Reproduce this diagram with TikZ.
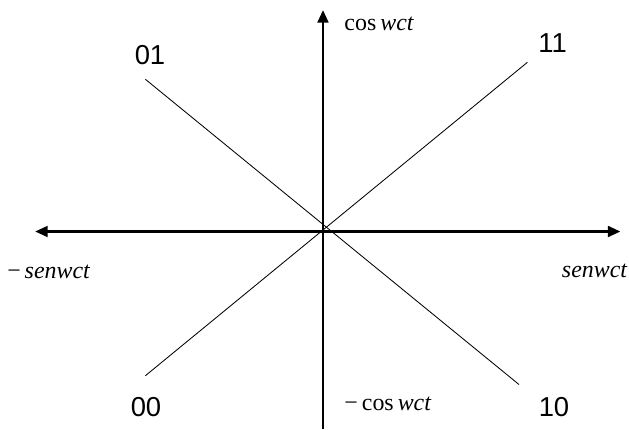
\documentclass[tikz,border=0pt]{standalone}
\usepackage{fontspec}
\setmainfont{Liberation Serif}
\newfontfamily\labelfont{Liberation Sans}
\usetikzlibrary{arrows.meta}

\begin{document}
\begin{tikzpicture}[
    axis/.style={line width=2.1pt, -{Triangle[length=9pt, width=7.5pt]}},
    diag/.style={line width=0.6pt},
    bits/.style={font=\labelfont\fontsize{19.5}{22}\selectfont},
    sig/.style={font=\fontsize{17}{20}\selectfont, inner sep=0pt},
]

% Frame
\useasboundingbox (-8.075,-4.9375) rectangle (7.65,5.7875);

% Axis ends
\def\xl{-7.2}
\def\xr{7.44}
\def\yt{5.54}
\def\yb{-4.94}

\coordinate (o) at (0,0);
\coordinate (left) at (\xl,0);
\coordinate (right) at (\xr,0);
\coordinate (top) at (0,\yt);
\coordinate (bottom) at (0,\yb);

% Diagonal ends
\coordinate (p01) at (-4.44, 3.805);
\coordinate (p10) at (4.90, -3.825);
\coordinate (p11) at (5.11, 4.23);
\coordinate (p00) at (-4.44, -3.605);

% Axes
\draw[axis] (o) -- (right);
\draw[axis] (o) -- (left);
\draw[axis] (bottom) -- (top);

% Diagonals
\draw[diag] (p01) -- (p10);
\draw[diag] (p00) -- (p11);

% Symbol labels
\node[bits] (b01) at (-4.325, 4.41) {01};
\node[bits] (b11) at (5.74, 4.71) {11};
\node[bits] (b00) at (-4.425, -4.40) {00};
\node[bits] (b10) at (5.775, -4.38) {10};

% Signal labels
\node[sig, anchor=west] (cosp) at (0.53, 5.19) {cos\,\textit{wct}};
\node[sig, anchor=west] (cosm) at (0.53, -4.31) {−\,cos\,\textit{wct}};
\node[sig, anchor=west] (senm) at (-7.90, -1.01) {−\,\textit{senwct}};
\node[sig, anchor=east] (senp) at (7.62, -0.99) {\textit{senwct}};

\end{tikzpicture}
\end{document}
